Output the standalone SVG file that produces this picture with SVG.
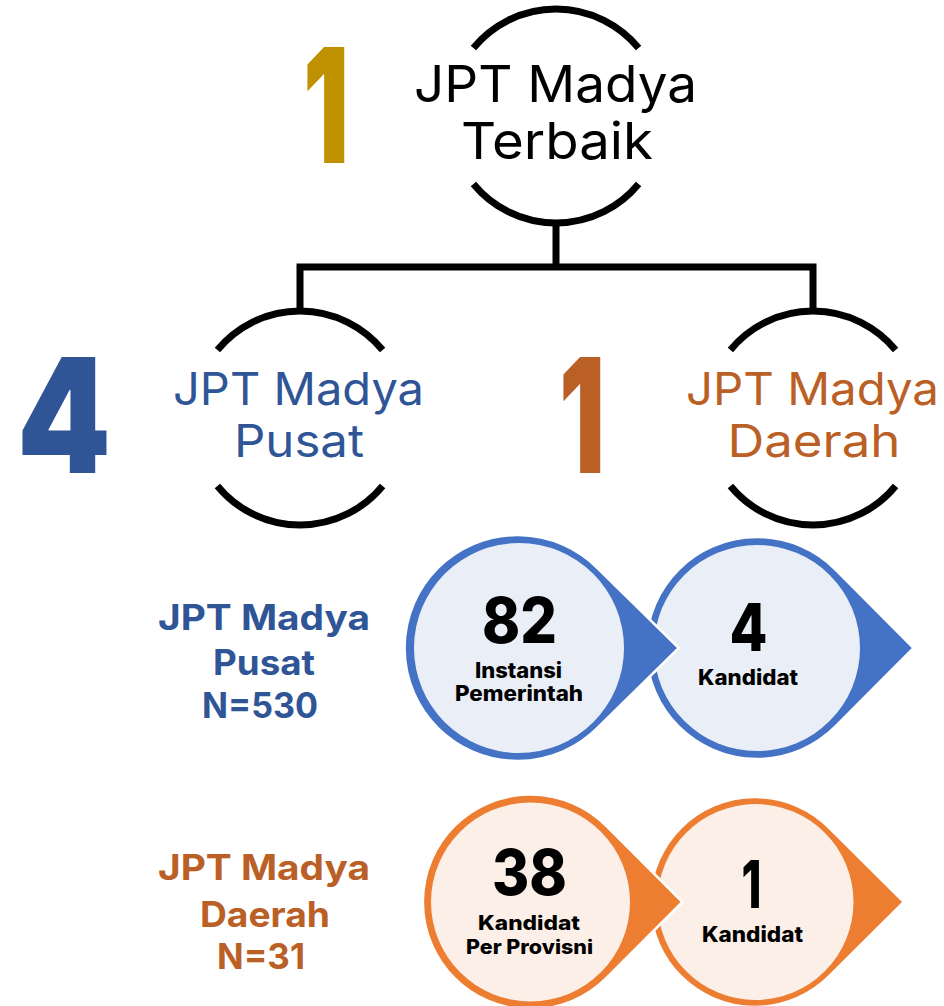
<svg xmlns="http://www.w3.org/2000/svg" width="944" height="1006" viewBox="0 0 944 1006">
<style>
.bg{fill:#ffffff}
.arc{fill:none;stroke:#000;stroke-width:7;stroke-linecap:butt}
.conn{fill:none;stroke:#000;stroke-width:7;stroke-linejoin:miter;stroke-linecap:butt}
.h{font-family:Inter,"Open Sans",sans-serif;font-weight:400;text-anchor:middle}
.big{font-family:Inter,"Liberation Sans",sans-serif;font-weight:900;font-size:160px}
.lbl{font-family:Inter,"Open Sans",sans-serif;font-weight:700;font-size:35px;text-anchor:middle}
.num{font-family:Inter,"Liberation Sans",sans-serif;font-weight:800;text-anchor:middle;fill:#000}
.sm{font-family:Inter,"Liberation Sans",sans-serif;font-weight:800;font-size:21px;text-anchor:middle;fill:#000}
.blue{fill:#2F5597}
.orange{fill:#BA6026}
.bOuter{fill:#4472C4;stroke:#fff;stroke-width:2.5}
.bInner{fill:#E9EEF7}
.oOuter{fill:#ED7D31;stroke:#fff;stroke-width:2.5}
.oInner{fill:#FCEFE7}
</style>
<rect class="bg" x="0" y="0" width="944" height="1006"/>

<g id="connectors">
  <path class="conn" d="M556,222 V267"/>
  <path class="conn" d="M300,311 V267 H813 V311"/>
</g>

<g id="node-top">
  <path class="arc" d="M473.4,48 A107,107 0 0 1 638.6,48"/>
  <path class="arc" d="M473.4,184 A107,107 0 0 0 638.6,184"/>
  <text class="h" x="555.5" y="102" font-size="51" fill="#000" textLength="283" lengthAdjust="spacingAndGlyphs">JPT Madya</text>
  <text class="h" x="557" y="159" font-size="51" fill="#000" textLength="192" lengthAdjust="spacingAndGlyphs">Terbaik</text>
</g>
<g id="num-top">
  <text class="big" x="303" y="163" fill="#BF9000" textLength="46" lengthAdjust="spacingAndGlyphs">1</text>
</g>

<g id="node-pusat">
  <path class="arc" d="M217.4,350 A107,107 0 0 1 382.6,350"/>
  <path class="arc" d="M217.4,486 A107,107 0 0 0 382.6,486"/>
  <text class="h blue" x="298.5" y="405" font-size="45" textLength="251" lengthAdjust="spacingAndGlyphs">JPT Madya</text>
  <text class="h blue" x="299" y="457" font-size="45" textLength="130" lengthAdjust="spacingAndGlyphs">Pusat</text>
</g>
<g id="num-pusat">
  <text class="big" x="17" y="473" fill="#2F5597" textLength="94" lengthAdjust="spacingAndGlyphs">4</text>
</g>

<g id="node-daerah">
  <path class="arc" d="M730.4,350 A107,107 0 0 1 895.6,350"/>
  <path class="arc" d="M730.4,486 A107,107 0 0 0 895.6,486"/>
  <text class="h orange" x="812.5" y="405" font-size="45" textLength="253" lengthAdjust="spacingAndGlyphs">JPT Madya</text>
  <text class="h orange" x="814" y="457" font-size="45" textLength="173" lengthAdjust="spacingAndGlyphs">Daerah</text>
</g>
<g id="num-daerah">
  <text class="big" x="559" y="473" fill="#BA6026" textLength="46" lengthAdjust="spacingAndGlyphs">1</text>
</g>

<g id="label-pusat">
  <text class="lbl blue" x="264" y="630" textLength="212" lengthAdjust="spacingAndGlyphs">JPT Madya</text>
  <text class="lbl blue" x="264" y="675" textLength="102" lengthAdjust="spacingAndGlyphs">Pusat</text>
  <text class="lbl blue" x="260" y="718" textLength="116" lengthAdjust="spacingAndGlyphs">N=530</text>
</g>

<g id="label-daerah">
  <text class="lbl orange" x="264" y="880" textLength="212" lengthAdjust="spacingAndGlyphs">JPT Madya</text>
  <text class="lbl orange" x="265" y="927" textLength="130" lengthAdjust="spacingAndGlyphs">Daerah</text>
  <text class="lbl orange" x="261" y="969" textLength="88" lengthAdjust="spacingAndGlyphs">N=31</text>
</g>

<g id="blue-kandidat">
  <path class="bOuter" d="M913.6,648 L835.5,726.5 A111,111 0 1 1 835.5,569.5 Z"/>
  <circle class="bInner" cx="757" cy="648" r="103"/>
  <text class="num" x="748.5" y="651" font-size="66" textLength="38" lengthAdjust="spacingAndGlyphs">4</text>
  <text class="sm" x="748" y="685" textLength="100" lengthAdjust="spacingAndGlyphs">Kandidat</text>
</g>
<g id="blue-instansi">
  <path class="bOuter" d="M678.8,648 L598.2,727.2 A113,113 0 1 1 598.2,568.8 Z"/>
  <circle class="bInner" cx="519" cy="648" r="105"/>
  <text class="num" x="519.5" y="643" font-size="63" textLength="75" lengthAdjust="spacingAndGlyphs">82</text>
  <text class="sm" x="518.5" y="678" textLength="87" lengthAdjust="spacingAndGlyphs">Instansi</text>
  <text class="sm" x="519" y="701" textLength="128" lengthAdjust="spacingAndGlyphs">Pemerintah</text>
</g>

<g id="orange-kandidat">
  <path class="oOuter" d="M903.9,902 L830.0,975.5 A105,105 0 1 1 830.0,828.5 Z"/>
  <circle class="oInner" cx="755.5" cy="902" r="98"/>
  <text class="num" x="751.5" y="908" font-size="66" textLength="20" lengthAdjust="spacingAndGlyphs">1</text>
  <text class="sm" x="752.5" y="942" textLength="101" lengthAdjust="spacingAndGlyphs">Kandidat</text>
</g>
<g id="orange-kandidat-provinsi">
  <path class="oOuter" d="M682.4,902 L606.5,977.9 A107.5,107.5 0 1 1 606.5,826.1 Z"/>
  <circle class="oInner" cx="530.5" cy="902" r="99.5"/>
  <text class="num" x="529.5" y="895" font-size="63" textLength="75" lengthAdjust="spacingAndGlyphs">38</text>
  <text class="sm" x="529" y="930" font-size="20" style="font-size:20px" textLength="102" lengthAdjust="spacingAndGlyphs">Kandidat</text>
  <text class="sm" x="529.5" y="954" font-size="20" style="font-size:20px" textLength="127" lengthAdjust="spacingAndGlyphs">Per Provisni</text>
</g>
</svg>
